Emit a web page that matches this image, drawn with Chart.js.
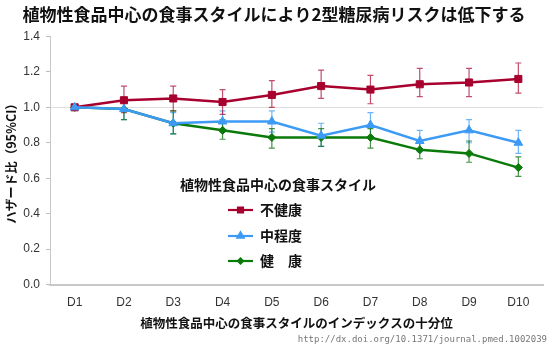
<!DOCTYPE html>
<html>
<head>
<meta charset="utf-8">
<script src="https://cdn.jsdelivr.net/npm/chart.js@4/dist/chart.umd.min.js"></script>
<style>
  html, body { margin: 0; padding: 0; background: #ffffff; }
  #wrap { position: relative; width: 549px; height: 347px; }
</style>
</head>
<body>
<div id="wrap"><canvas id="c" width="549" height="347"></canvas></div>
<script>
// Deciles of the plant-based diet index
const deciles = ['D1', 'D2', 'D3', 'D4', 'D5', 'D6', 'D7', 'D8', 'D9', 'D10'];

// Hazard ratios with 95% confidence limits
const unhealthyHR = [1.00, 1.04, 1.05, 1.03, 1.07, 1.12, 1.10, 1.13, 1.14, 1.16];
const unhealthyLo = [null, 0.97, 0.98, 0.96, 1.00, 1.05, 1.02, 1.06, 1.06, 1.08];
const unhealthyHi = [null, 1.12, 1.12, 1.10, 1.15, 1.21, 1.18, 1.22, 1.22, 1.25];

const moderateHR = [1.00, 0.99, 0.91, 0.92, 0.92, 0.84, 0.90, 0.81, 0.87, 0.80];
const moderateLo = [null, 0.93, 0.85, 0.86, 0.86, 0.78, 0.83, 0.75, 0.80, 0.74];
const moderateHi = [null, 1.05, 0.97, 0.98, 0.98, 0.91, 0.97, 0.87, 0.93, 0.87];

const healthyHR = [1.00, 0.99, 0.91, 0.87, 0.83, 0.83, 0.83, 0.76, 0.74, 0.66];
const healthyLo = [null, 0.93, 0.85, 0.82, 0.77, 0.78, 0.77, 0.71, 0.69, 0.61];
const healthyHi = [null, 1.05, 0.98, 0.93, 0.88, 0.88, 0.88, 0.81, 0.81, 0.72];

const yTicks = [0.0, 0.2, 0.4, 0.6, 0.8, 1.0, 1.2, 1.4];

const titleText = '植物性食品中心の食事スタイルにより2型糖尿病リスクは低下する';
const yTitle = 'ハザード比（95%CI）';
const xTitle = '植物性食品中心の食事スタイルのインデックスの十分位';
const legendTitle = '植物性食品中心の食事スタイル';
const sourceText = 'http://dx.doi.org/10.1371/journal.pmed.1002039';

const RED = '#A8002E';
const BLUE = '#3D9BF5';
const GREEN = '#0A7A0A';
const JP = '"Noto Sans CJK JP", "Noto Sans", sans-serif';
const LATIN = '"Liberation Sans", Arial, sans-serif';

// Dataset order: first dataset is painted on top
const series = [
  { label: '中程度', data: moderateHR, lo: moderateLo, hi: moderateHi, color: BLUE, bar: 'rgba(61,155,245,0.75)', style: 'triangle', r: 5 },
  { label: '不健康', data: unhealthyHR, lo: unhealthyLo, hi: unhealthyHi, color: RED, bar: 'rgba(168,0,46,0.7)', style: 'rect', r: 5 },
  { label: '健　康', data: healthyHR, lo: healthyLo, hi: healthyHi, color: GREEN, bar: 'rgba(10,110,10,0.75)', style: 'rectRot', r: 4 }
];
const legendOrder = [1, 0, 2];

// Confidence-interval whiskers drawn under the lines
const errorBars = {
  id: 'errorBars',
  beforeDatasetsDraw(chart) {
    const ctx = chart.ctx;
    const x = chart.scales.x, y = chart.scales.y;
    ctx.save();
    chart.data.datasets.forEach((ds) => {
      ctx.strokeStyle = ds.barColor;
      ctx.lineWidth = 1.2;
      ds.data.forEach((v, i) => {
        const lo = ds.lo[i], hi = ds.hi[i];
        if (lo == null || hi == null) return;
        const px = x.getPixelForValue(i);
        const yl = y.getPixelForValue(lo), yh = y.getPixelForValue(hi);
        ctx.beginPath();
        ctx.moveTo(px, yl); ctx.lineTo(px, yh);
        ctx.moveTo(px - 3, yl); ctx.lineTo(px + 3, yl);
        ctx.moveTo(px - 3, yh); ctx.lineTo(px + 3, yh);
        ctx.stroke();
      });
    });
    ctx.restore();
  }
};

// Legend block inside the plot, plus the source line
const overlay = {
  id: 'overlay',
  afterDraw(chart) {
    const ctx = chart.ctx;
    ctx.save();
    ctx.fillStyle = '#111';
    ctx.font = 'bold 14px ' + JP;
    ctx.textBaseline = 'middle';
    ctx.textAlign = 'left';
    ctx.fillText(legendTitle, 180, 185);
    const rows = [210, 236, 261];
    legendOrder.forEach((k, j) => {
      const s = series[k];
      const yy = rows[j];
      ctx.strokeStyle = s.color;
      ctx.lineWidth = 2.2;
      ctx.beginPath(); ctx.moveTo(228, yy); ctx.lineTo(253, yy); ctx.stroke();
      ctx.fillStyle = s.color;
      ctx.strokeStyle = s.color;
      Chart.helpers.drawPoint(ctx, { pointStyle: s.style, radius: s.r - 1.5, borderWidth: 1 }, 240.5, yy);
      ctx.fillStyle = '#111';
      ctx.font = 'bold 14px ' + JP;
      ctx.fillText(s.label, 260, yy);
    });
    ctx.fillStyle = '#777';
    ctx.font = '9px "DejaVu Sans Mono", monospace';
    ctx.textAlign = 'right';
    ctx.fillText(sourceText, 547, 340);
    ctx.restore();
  }
};

new Chart(document.getElementById('c'), {
  type: 'line',
  data: {
    labels: deciles,
    datasets: series.map(s => ({
      label: s.label,
      data: s.data,
      lo: s.lo,
      hi: s.hi,
      barColor: s.bar,
      borderColor: s.color,
      backgroundColor: s.color,
      borderWidth: 2.5,
      pointStyle: s.style,
      pointRadius: s.r,
      pointBorderWidth: 1,
      tension: 0
    }))
  },
  options: {
    responsive: false,
    animation: false,
    devicePixelRatio: 1,
    layout: { padding: { left: 0, right: 1, top: 0, bottom: 16 } },
    plugins: {
      legend: { display: false },
      tooltip: { enabled: false },
      title: {
        display: true,
        text: titleText,
        color: '#111',
        font: { family: JP, size: 17, weight: 'bold' },
        padding: { top: 4, bottom: 12 }
      }
    },
    scales: {
      x: {
        offset: true,
        grid: { display: false, drawTicks: false },
        border: { display: true, color: '#c8c8c8', width: 2 },
        ticks: { color: '#333', font: { family: LATIN, size: 12 }, padding: 11 },
        title: {
          display: true,
          text: xTitle,
          color: '#111',
          font: { family: JP, size: 12.5, weight: 'bold' },
          padding: { top: -5, bottom: 0 }
        }
      },
      y: {
        min: 0,
        max: 1.4,
        afterBuildTicks(scale) { scale.ticks = yTicks.map(v => ({ value: v })); },
        afterFit(scale) { scale.width = 50; },
        grid: {
          color: (c) => (c.tick && Math.abs(c.tick.value - 1.0) < 1e-6) ? '#dedede' : 'rgba(0,0,0,0)',
          tickColor: '#bbbbbb',
          tickLength: 4,
          lineWidth: 1
        },
        border: { display: true, color: '#c8c8c8', width: 1 },
        ticks: {
          color: '#333',
          font: { family: LATIN, size: 12 },
          padding: 6,
          callback: (v) => Number(v).toFixed(1)
        },
        title: {
          display: true,
          text: yTitle,
          color: '#111',
          font: { family: JP, size: 12.5, weight: 'bold' },
          padding: { top: 4, bottom: 0 }
        }
      }
    }
  },
  plugins: [errorBars, overlay]
});
</script>
</body>
</html>
